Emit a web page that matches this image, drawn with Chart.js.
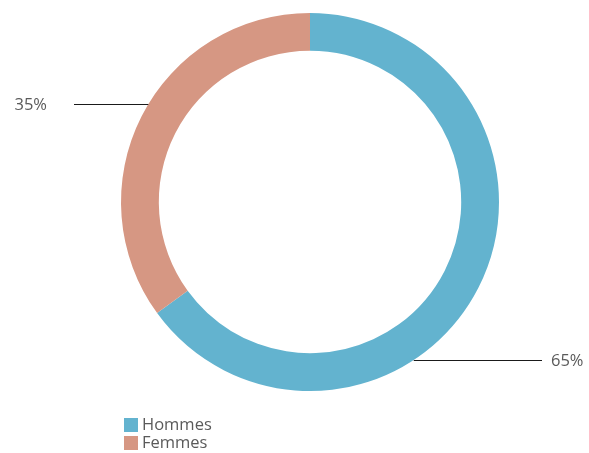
<!DOCTYPE html>
<html>
<head>
<meta charset="utf-8">
<script src="https://cdn.jsdelivr.net/npm/chart.js@4"></script>
<style>
  html, body { margin: 0; padding: 0; background: #ffffff; }
  #wrap { position: relative; width: 589px; height: 453px; }
</style>
</head>
<body>
<div id="wrap"><canvas id="chart" width="589" height="453"></canvas></div>
<script>
const labels = ["Hommes", "Femmes"];
const values = [65, 35];
const colors = ["#63B3CF", "#D69783"];

// Where the leader line touches each slice (degrees, clockwise from 3 o'clock)
const leaderAngles = [56.7, 211.2];
// How far the horizontal leader line runs, as an x position
const leaderEnds = [542, 74];

const FONT = "'Open Sans', sans-serif";
const TEXT_COLOR = "#5a5a5a";

// Draw leader lines + percentage labels
const leaderLabels = {
  id: "leaderLabels",
  afterDatasetsDraw(chart) {
    const ctx = chart.ctx;
    const meta = chart.getDatasetMeta(0);
    const total = values.reduce((a, b) => a + b, 0);
    meta.data.forEach((arc, i) => {
      const a = (leaderAngles[i] * Math.PI) / 180;
      const x0 = arc.x + Math.cos(a) * arc.outerRadius;
      const y0 = Math.round(arc.y + Math.sin(a) * arc.outerRadius) + 0.5;
      const x1 = leaderEnds[i];
      ctx.save();
      ctx.strokeStyle = "#1a1a1a";
      ctx.lineWidth = 1;
      ctx.beginPath();
      ctx.moveTo(x0, y0);
      ctx.lineTo(x1, y0);
      ctx.stroke();
      ctx.font = "16.5px " + FONT;
      ctx.fillStyle = TEXT_COLOR;
      ctx.textBaseline = "middle";
      const text = Math.round((values[i] / total) * 100) + "%";
      if (x1 > arc.x) {
        ctx.textAlign = "left";
        ctx.fillText(text, x1 + 9, y0 + 1);
      } else {
        ctx.textAlign = "right";
        ctx.fillText(text, x1 - 27, y0 + 1);
      }
      ctx.restore();
    });
  },
};

// Simple stacked legend at bottom left
const stackedLegend = {
  id: "stackedLegend",
  afterDraw(chart) {
    const ctx = chart.ctx;
    ctx.save();
    ctx.font = "16.5px " + FONT;
    ctx.textBaseline = "middle";
    labels.forEach((label, i) => {
      const y = 418 + i * 18;
      ctx.fillStyle = colors[i];
      ctx.fillRect(124, y, 14, 14);
      ctx.fillStyle = TEXT_COLOR;
      ctx.fillText(label, 142, y + 7);
    });
    ctx.restore();
  },
};

new Chart(document.getElementById("chart").getContext("2d"), {
  type: "doughnut",
  data: {
    labels: labels,
    datasets: [
      {
        data: values,
        backgroundColor: colors,
        borderWidth: 0,
      },
    ],
  },
  options: {
    responsive: false,
    animation: false,
    cutout: "80%",
    layout: {
      padding: { left: 121, right: 90, top: 13, bottom: 62 },
    },
    plugins: {
      legend: { display: false },
      tooltip: { enabled: false },
    },
  },
  plugins: [leaderLabels, stackedLegend],
});
</script>
</body>
</html>
